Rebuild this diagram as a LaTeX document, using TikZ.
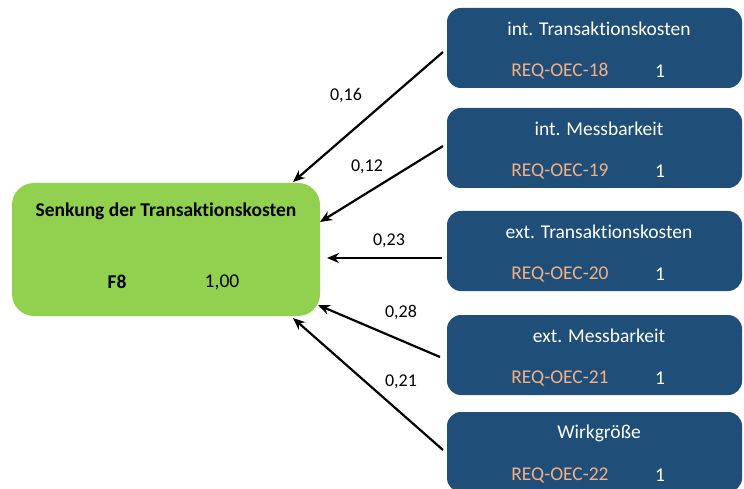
\documentclass[tikz,border=0pt]{standalone}
\usepackage{fontspec}
\setmainfont{Carlito}[Ligatures={NoCommon}]
\usetikzlibrary{arrows.meta}
\definecolor{factgreen}{HTML}{92D050}
\definecolor{reqblue}{HTML}{1F4E79}
\definecolor{reqorange}{HTML}{F4B183}

\begin{document}
\begin{tikzpicture}[x=1pt,y=-1pt,
  factbox/.style={fill=factgreen, rounded corners=22pt, minimum width=308pt, minimum height=133pt, inner sep=0pt},
  reqbox/.style={fill=reqblue, rounded corners=14pt, minimum width=295pt, minimum height=80pt, inner sep=0pt},
  facttext/.style={font=\bfseries\fontsize{19.5}{23}\selectfont, text=black, inner sep=0pt},
  factval/.style={font=\fontsize{19.5}{23}\selectfont, text=black, inner sep=0pt},
  reqtitle/.style={font=\fontsize{19.5}{23}\selectfont, text=white, inner sep=0pt},
  reqcode/.style={font=\fontsize{19.5}{23}\selectfont, text=reqorange, inner sep=0pt},
  reqval/.style={font=\fontsize{19.5}{23}\selectfont, text=white, inner sep=0pt},
  weight/.style={font=\fontsize{18}{21}\selectfont, text=black, inner sep=0pt},
  link/.style={line width=2.2pt, -{Stealth[length=12pt,width=10pt]}}
]
\useasboundingbox (0,0) rectangle (744,489);
\clip (0,0) rectangle (744,489);

% target factor
\node[factbox] (g) at (166,249.5) {};
\node[facttext] (gt) at (166,211) {Senkung der Transaktionskosten};
\node[facttext] (gid) at (117,282) {F8};
\node[factval] (gv) at (222,282) {1,00};

% requirement boxes
\foreach \i/\top/\title/\code in {
  1/8/{int. Transaktionskosten}/REQ-OEC-18,
  2/108/{int. Messbarkeit}/REQ-OEC-19,
  3/211/{ext. Transaktionskosten}/REQ-OEC-20,
  4/315/{ext. Messbarkeit}/REQ-OEC-21,
  5/412/{Wirkgröße}/REQ-OEC-22}{
  \node[reqbox] (b\i) at (594.5,\top+40) {};
  \node[reqtitle] (b\i t) at (599,\top+21) {\title};
  \node[reqcode] (b\i c) at (560,\top+63) {\code};
  \node[reqval] (b\i v) at (660,\top+63) {1};
}

% arrow end points on the factor box
\coordinate (e1) at (293,182);
\coordinate (e2) at (320,222);
\coordinate (e3) at (327,258);
\coordinate (e4) at (318,305);
\coordinate (e5) at (293,318);
% arrow start points left of the requirement boxes
\coordinate (s1) at (443,52);
\coordinate (s2) at (443,146);
\coordinate (s3) at (442,258);
\coordinate (s4) at (440,357);
\coordinate (s5) at (443,450);

\draw[link] (s1) -- (e1);
\draw[link] (s2) -- (e2);
\draw[link] (s3) -- (e3);
\draw[link] (s4) -- (e4);
\draw[link] (s5) -- (e5);

% weights
\node[weight] (w1) at (346,96) {0,16};
\node[weight] (w2) at (367,167) {0,12};
\node[weight] (w3) at (389,241) {0,23};
\node[weight] (w4) at (401,313) {0,28};
\node[weight] (w5) at (401,382) {0,21};
\end{tikzpicture}
\end{document}
